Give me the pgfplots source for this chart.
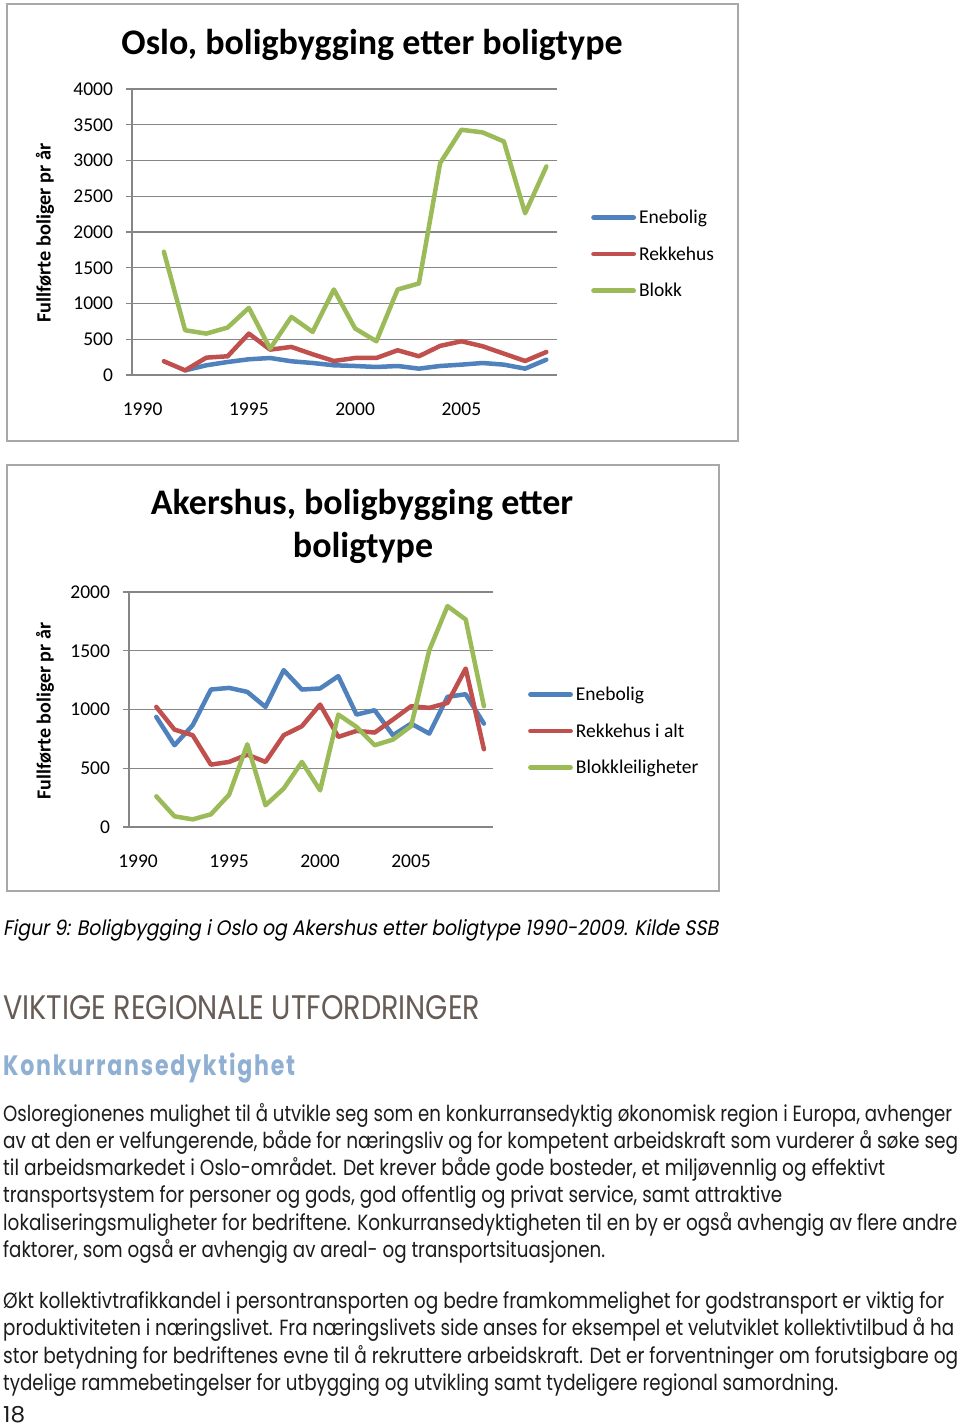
\documentclass[border=0pt]{standalone}
\usepackage{fontspec}
\setmainfont{Poppins}
\newfontfamily\chartfont{Carlito}
\newfontfamily\capfont{Poppins}[FakeSlant=0.2]
\newfontfamily\kfont{Poppins}[LetterSpace=8]
\usepackage{graphicx}
\usepackage{pgfplots}
\usepackage{pgfplotstable}
\pgfplotsset{compat=1.18}
\definecolor{cblue}{HTML}{4F81BD}
\definecolor{cred}{HTML}{C0504D}
\definecolor{cgreen}{HTML}{9BBB59}
\definecolor{gridgray}{HTML}{868686}
\definecolor{framegray}{HTML}{A8A8A8}
\definecolor{headcol}{HTML}{675C55}
\definecolor{kcol}{HTML}{8FB0D3}
\definecolor{bodycol}{HTML}{1C1C1C}

\pgfplotstableread{
year ene rek blokk
1991 nan 192 1724
1992 65 65 626
1993 136 243 579
1994 182 262 664
1995 220 579 939
1996 238 355 369
1997 192 393 813
1998 168 290 603
1999 136 196 1196
2000 126 238 650
2001 112 238 472
2002 126 346 1196
2003 89 262 1280
2004 126 407 2963
2005 145 472 3430
2006 168 402 3393
2007 145 299 3266
2008 89 196 2262
2009 215 322 2916
}\oslo

\pgfplotstableread{
year ene rek blokk
1991 937 1022 261
1992 696 829 91
1993 866 781 65
1994 1170 531 108
1995 1184 554 275
1996 1150 616 704
1997 1022 554 185
1998 1335 781 327
1999 1170 858 554
2000 1179 1042 312
2001 1284 767 957
2002 957 818 852
2003 994 804 696
2004 781 914 744
2005 880 1028 858
2006 795 1014 1505
2007 1108 1056 1880
2008 1130 1349 1766
2009 880 662 1028
}\akershus

\pgfplotsset{
 mychart/.style={
  scale only axis, anchor=south west, clip=false,
  xmin=1989.5, xmax=2009.5, ymin=0,
  xtick={1990,1995,2000,2005}, xticklabels={1990,1995,2000,2005},
  axis x line*=bottom, axis y line*=left,
  axis line style={-, draw=gridgray, line width=1.3pt},
  ymajorgrids, grid style={draw=gridgray, line width=1.3pt},
  x tick style={draw=none},
  y tick style={draw=gridgray, line width=1.3pt},
  tick align=outside, major tick length=6pt,
  tick label style={font=\chartfont\fontsize{19.5}{23}\selectfont, text=black},
  yticklabel style={xshift=-9.5pt},
  xticklabel style={yshift=-18pt},
  legend style={draw=none, fill=none, font=\chartfont\fontsize{19.5}{23}\selectfont,
    anchor=west, row sep=15.5pt, inner sep=0pt, nodes={inner sep=3pt}},
  legend cell align=left,
  legend image code/.code={\draw[##1, line width=4.8pt] (0pt,0pt) -- (40pt,0pt);},
  every axis plot/.append style={line width=4.5pt, line join=round, line cap=round, no markers},
 }
}

\newcommand\tline[5]{\node[anchor=base west, inner sep=0pt, text=#5] at (#1pt,-#2pt) {\resizebox{#3pt}{\height}{#4}};}

\begin{document}
\begin{tikzpicture}
\path[use as bounding box, fill=white] (0pt,0pt) rectangle (960pt,-1427pt);

% ---------- Oslo chart ----------
\draw[framegray, line width=2pt] (7pt,-4pt) rectangle (738pt,-441pt);
\node[font=\chartfont\bfseries\fontsize{36}{42}\selectfont, anchor=base] at (372pt,-54pt) {Oslo, boligbygging etter boligtype};
\node[rotate=90, font=\chartfont\bfseries\fontsize{20.3}{24}\selectfont] at (45pt,-233pt) {Fullførte boliger pr år};
\begin{axis}[mychart, at={(132pt,-375pt)}, width=425pt, height=286pt,
  ymax=4000, ytick={0,500,...,4000},
  yticklabels={0,500,1000,1500,2000,2500,3000,3500,4000},
  legend style={at={(1.08,0.423)}}]
\addplot[cblue] table[x=year, y=ene] {\oslo};
\addlegendentry{Enebolig}
\addplot[cred] table[x=year, y=rek] {\oslo};
\addlegendentry{Rekkehus}
\addplot[cgreen] table[x=year, y=blokk] {\oslo};
\addlegendentry{Blokk}
\end{axis}

% ---------- Akershus chart ----------
\draw[framegray, line width=2pt] (7pt,-465pt) rectangle (719pt,-891pt);
\node[font=\chartfont\bfseries\fontsize{36}{42}\selectfont, anchor=base] at (362pt,-514pt) {Akershus, boligbygging etter};
\node[font=\chartfont\bfseries\fontsize{36}{42}\selectfont, anchor=base] at (363pt,-557pt) {boligtype};
\node[rotate=90, font=\chartfont\bfseries\fontsize{20}{24}\selectfont] at (45pt,-711pt) {Fullførte boliger pr år};
\begin{axis}[mychart, at={(129pt,-827pt)}, width=364pt, height=235pt,
  ymax=2000, ytick={0,500,...,2000},
  yticklabels={0,500,1000,1500,2000},
  legend style={at={(1.096,0.4085)}}]
\addplot[cblue] table[x=year, y=ene] {\akershus};
\addlegendentry{Enebolig}
\addplot[cred] table[x=year, y=rek] {\akershus};
\addlegendentry{Rekkehus i alt}
\addplot[cgreen] table[x=year, y=blokk] {\akershus};
\addlegendentry{Blokkleiligheter}
\end{axis}

% ---------- text ----------
\tline{3}{935}{715}{\capfont\fontsize{21}{25}\selectfont Figur 9: Boligbygging i Oslo og Akershus etter boligtype 1990-2009. Kilde SSB}{black}
\tline{3}{1019}{477}{\fontsize{34}{40}\selectfont VIKTIGE REGIONALE UTFORDRINGER}{headcol}
\tline{3}{1075}{292}{\kfont\bfseries\fontsize{28}{32}\selectfont Konkurransedyktighet}{kcol}

\tline{3}{1121}{949}{\fontsize{22}{26}\selectfont Osloregionenes mulighet til å utvikle seg som en konkurransedyktig økonomisk region i Europa, avhenger}{bodycol}
\tline{3}{1148.3}{955}{\fontsize{22}{26}\selectfont av at den er velfungerende, både for næringsliv og for kompetent arbeidskraft som vurderer å søke seg}{bodycol}
\tline{3}{1175.6}{882}{\fontsize{22}{26}\selectfont til arbeidsmarkedet i Oslo-området. Det krever både gode bosteder, et miljøvennlig og effektivt}{bodycol}
\tline{3}{1202.9}{779}{\fontsize{22}{26}\selectfont transportsystem for personer og gods, god offentlig og privat service, samt attraktive}{bodycol}
\tline{3}{1230.2}{954}{\fontsize{22}{26}\selectfont lokaliseringsmuligheter for bedriftene. Konkurransedyktigheten til en by er også avhengig av flere andre}{bodycol}
\tline{3}{1257.5}{602}{\fontsize{22}{26}\selectfont faktorer, som også er avhengig av areal- og transportsituasjonen.}{bodycol}

\tline{3}{1308}{941}{\fontsize{22}{26}\selectfont Økt kollektivtrafikkandel i persontransporten og bedre framkommelighet for godstransport er viktig for}{bodycol}
\tline{3}{1335.5}{951}{\fontsize{22}{26}\selectfont produktiviteten i næringslivet. Fra næringslivets side anses for eksempel et velutviklet kollektivtilbud å ha}{bodycol}
\tline{3}{1363}{955}{\fontsize{22}{26}\selectfont stor betydning for bedriftenes evne til å rekruttere arbeidskraft. Det er forventninger om forutsigbare og}{bodycol}
\tline{3}{1390.5}{835}{\fontsize{22}{26}\selectfont tydelige rammebetingelser for utbygging og utvikling samt tydeligere regional samordning.}{bodycol}

\tline{3}{1422}{22}{\fontsize{22}{26}\selectfont 18}{bodycol}
\end{tikzpicture}
\end{document}
